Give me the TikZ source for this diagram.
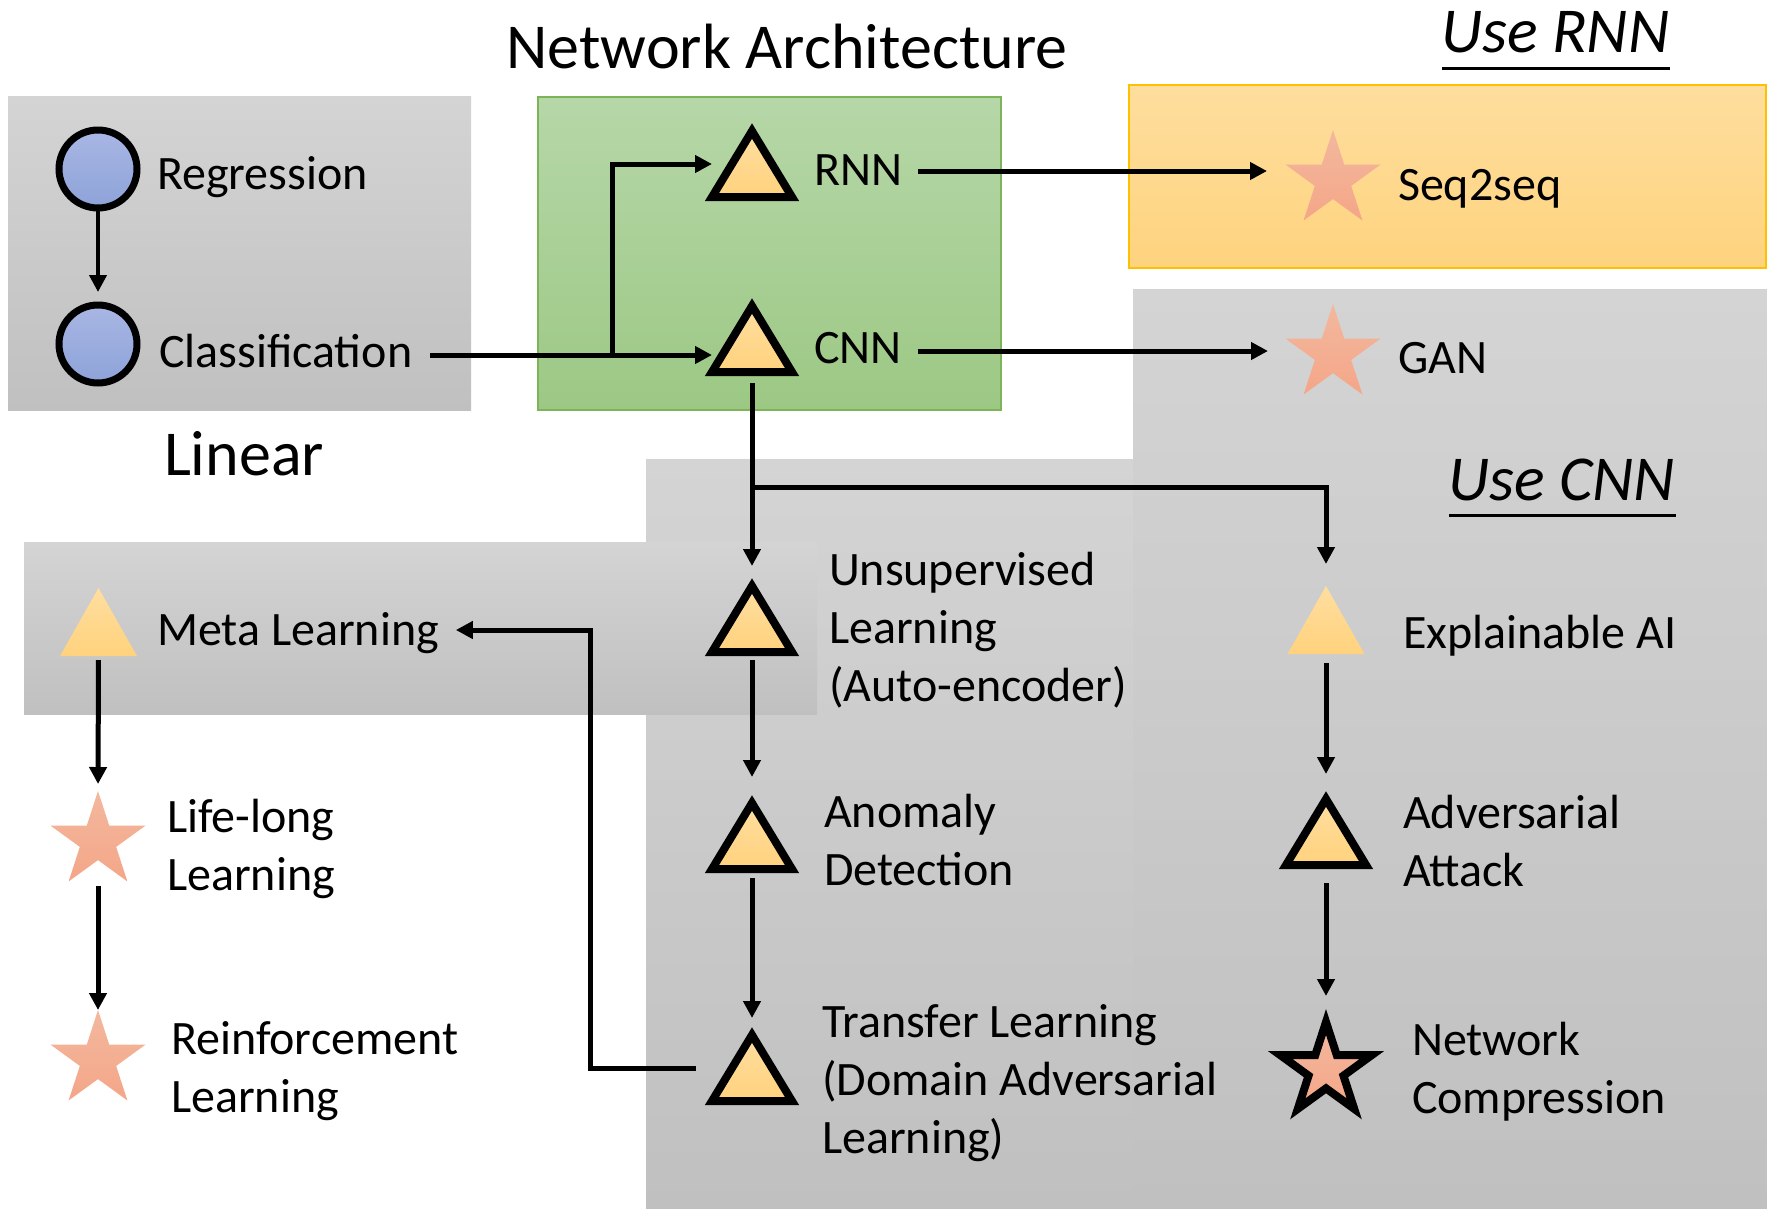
\documentclass[tikz,border=0pt]{standalone}
\usepackage{fontspec}
\setmainfont{Carlito}
\usetikzlibrary{shapes.geometric,arrows.meta,calc}

\definecolor{gtop}{RGB}{212,212,212}
\definecolor{gbot}{RGB}{192,192,192}
\definecolor{grtop}{RGB}{182,215,168}
\definecolor{grbot}{RGB}{156,200,132}
\definecolor{grline}{RGB}{125,180,90}
\definecolor{ortop}{RGB}{254,222,158}
\definecolor{orbot}{RGB}{254,211,126}
\definecolor{orline}{RGB}{255,192,0}
\definecolor{ttop}{RGB}{255,222,160}
\definecolor{tbot}{RGB}{255,210,125}
\definecolor{ctop}{RGB}{168,182,227}
\definecolor{cbot}{RGB}{142,163,217}
\definecolor{sttop}{RGB}{243,184,158}
\definecolor{stbot}{RGB}{244,166,136}

\newcommand\ml[1]{\begin{tabular}[t]{@{}l@{}}#1\end{tabular}}
\newcommand\mytri[5]{\node[#4] (#1) at (#2,#3) {};
  \path[#5] (#1.south west) -- (#1.south east) -- (#1.north) -- cycle;}

\begin{document}
\begin{tikzpicture}[x=1pt,y=-1pt,
  txt/.style={font=\fontsize{48pt}{58pt}\selectfont, inner sep=0pt, outer sep=0pt, anchor=base west},
  head/.style={font=\fontsize{64pt}{76pt}\selectfont, inner sep=0pt, outer sep=0pt, anchor=base west},
  uhead/.style={head, font=\fontsize{64pt}{76pt}\selectfont\itshape},
  panel/.style={top color=gtop, bottom color=gbot, draw=none},
  tribox/.style={rectangle, draw=none, minimum width=80pt, minimum height=66pt, inner sep=0pt, outer sep=0pt},
  triboxp/.style={tribox, minimum width=77pt, minimum height=68pt},
  trib/.style={draw=black, line width=8pt, line join=miter, top color=ttop, bottom color=tbot},
  trip/.style={draw=none, top color=ttop, bottom color=tbot},
  circ/.style={circle, draw=black, line width=7pt, minimum size=78pt, inner sep=0pt, outer sep=0pt, top color=ctop, bottom color=cbot},
  starn/.style={star, star points=5, star point ratio=2.618, minimum size=100pt, inner sep=0pt, outer sep=0pt, top color=sttop, bottom color=stbot, draw=none},
  starb/.style={starn, draw=black, line width=8pt, minimum size=96pt, line join=miter},
  arr/.style={line width=5pt, -{Triangle[length=17pt,width=17pt]}},
  uline/.style={line width=3pt}
]
\path[use as bounding box] (0,0) rectangle (1767,1208);
\fill[white] (0,0) rectangle (1767,1208);

% panels
\path[panel] (646,459) rectangle (1767,1208);
\path[panel] (1133,289) rectangle (1767,1208);
\path[panel] (24,542) rectangle (817,714);
\path[panel] (8,96) rectangle (471,410);
\path[top color=grtop, bottom color=grbot, draw=grline, line width=1.5pt] (538,97) rectangle (1001,410);
\path[top color=ortop, bottom color=orbot, draw=orline, line width=2pt] (1129,85) rectangle (1766,268);

% headings
\node[head, anchor=base] (na-t) at (787,68) {Network Architecture};
\node[head] (lin-t) at (164,475) {Linear};
\node[uhead] (urnn-t) at (1441,52) {Use RNN};
\node[uhead] (ucnn-t) at (1448,500) {Use CNN};
\draw[uline] ($(urnn-t.base west)+(1,16)$) -- ($(urnn-t.base east)+(1,16)$);
\draw[uline] ($(ucnn-t.base west)+(1,15)$) -- ($(ucnn-t.base east)+(1,15)$);

% circles
\node[circ] (reg) at (98,169) {};
\node[circ] (cls) at (98,344) {};

% triangles
\mytri{rnn}{752}{164}{tribox}{trib}
\mytri{cnn}{752}{339}{tribox}{trib}
\mytri{uns}{752}{619}{tribox}{trib}
\mytri{ano}{752}{836}{tribox}{trib}
\mytri{tra}{752}{1068}{tribox}{trib}
\mytri{adv}{1326}{832}{tribox}{trib}
\mytri{meta}{98.5}{622}{triboxp}{trip}
\mytri{xai}{1326}{620}{triboxp}{trip}

% stars
\node[starn] (s2s) at (1333,180) {};
\node[starn] (gan) at (1333,354) {};
\node[starn] (life) at (98,841) {};
\node[starn] (rl) at (98,1060) {};
\node[starb] (nc) at (1326,1070) {};

% labels
\node[txt] (reg-t) at (157,189) {Regression};
\node[txt] (cls-t) at (159,367) {Classification};
\node[txt] (rnn-t) at (814,185) {RNN};
\node[txt] (cnn-t) at (814,363) {CNN};
\node[txt] (s2s-t) at (1398,200) {Seq2seq};
\node[txt] (gan-t) at (1398,373) {GAN};
\node[txt] (meta-t) at (157,645) {Meta Learning};
\node[txt] (uns-t) at (829,585) {\ml{Unsupervised\\Learning\\(Auto-encoder)}};
\node[txt] (ano-t) at (824,827) {\ml{Anomaly\\Detection}};
\node[txt] (tra-t) at (822,1037) {\ml{Transfer Learning\\(Domain Adversarial\\Learning)}};
\node[txt] (xai-t) at (1403,648) {Explainable AI};
\node[txt] (adv-t) at (1403,828) {\ml{Adversarial\\Attack}};
\node[txt] (nc-t) at (1412,1055) {\ml{Network\\Compression}};
\node[txt] (life-t) at (167,832) {\ml{Life-long\\Learning}};
\node[txt] (rl-t) at (171,1054) {\ml{Reinforcement\\Learning}};

% connectors
\draw[arr, line width=4pt, shorten >=13pt] (reg) -- (cls);
\draw[arr] ($(cls-t.base east)+(18,-12)$) -- ($(cnn.west)+(0,16)$);
\draw[arr] ($(cnn.west)+(-100,16)$) |- (rnn.west);
\draw[arr] ($(rnn-t.base east)+(16,-14)$) -- ($(s2s.center)+(-66,-9)$);
\draw[arr] ($(cnn-t.base east)+(16,-12)$) -- ($(gan.center)+(-65,-3)$);
\draw[arr, shorten <=11pt, shorten >=20pt] (cnn.south) -- (uns.north);
\draw[arr, shorten >=22pt] ($(cnn.south)+(0,115)$) -| (xai.north);
\draw[arr, shorten <=8pt, shorten >=26pt] (uns.south) -- (ano.north);
\draw[arr, shorten <=9pt, shorten >=17pt] (ano.south) -- (tra.north);
\draw[arr] ($(tra.west)+(-16,0)$) -| ($(meta-t.base east)+(152,-15)$) -- ($(meta-t.base east)+(17,-15)$);
\draw[arr, shorten <=4pt, shorten >=7pt] (meta.south) -- (life.north);
\draw[arr, shorten <=45pt] (life.center) -- (rl.north);
\draw[arr, shorten <=9pt, shorten >=25pt] (xai.south) -- (adv.north);
\draw[arr, shorten <=18pt, shorten >=26pt] (adv.south) -- (nc.north);
\end{tikzpicture}
\end{document}
